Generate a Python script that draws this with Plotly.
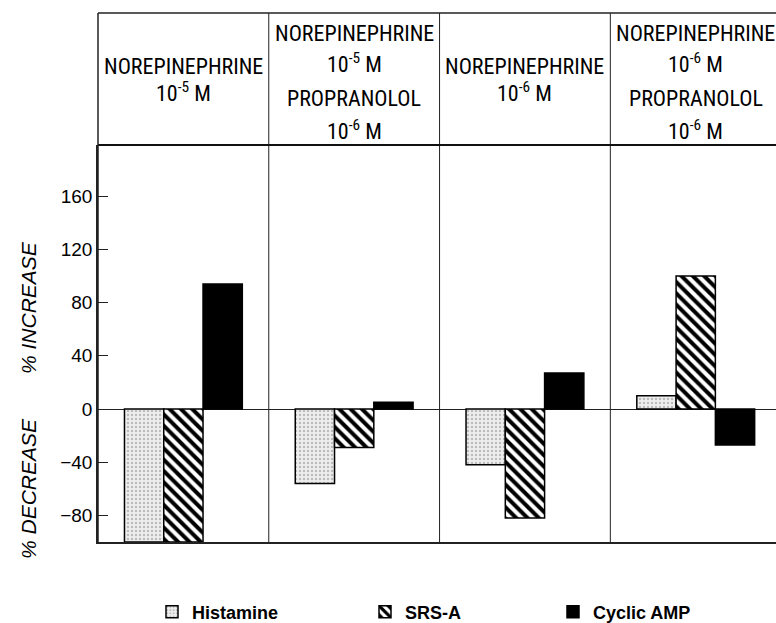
import plotly.graph_objects as go

panels = ["NE 1e-5", "NE 1e-5 + PROP 1e-6", "NE 1e-6", "NE 1e-6 + PROP 1e-6"]
header_lines = [
    ["NOREPINEPHRINE", "10<sup>-5</sup> M"],
    ["NOREPINEPHRINE", "10<sup>-5</sup> M", "PROPRANOLOL", "10<sup>-6</sup> M"],
    ["NOREPINEPHRINE", "10<sup>-6</sup> M"],
    ["NOREPINEPHRINE", "10<sup>-6</sup> M", "PROPRANOLOL", "10<sup>-6</sup> M"],
]
histamine = [-100, -56, -42, 10]
srs_a = [-100, -29, -82, 100]
cyclic_amp = [94, 5, 27, -27]
tick_vals = [-80, -40, 0, 40, 80, 120, 160]

W, H = 776, 623
ML, MT, MB, MR = 98, 145, 81, 0
PH = H - MT - MB


def py(p):
    return (H - MB - p) / PH


def px(p):
    return (p - ML) / (W - ML - MR)


HEAD_TOP = py(13)

fig = go.Figure()
fig.add_trace(go.Bar(
    x=panels, y=histamine, name="Histamine", legend="legend",
    marker=dict(color="white", line=dict(color="black", width=1.5),
                pattern=dict(shape=".", fgcolor="#8a8a8a", bgcolor="#eeeeee", size=4, solidity=0.3)),
))
fig.add_trace(go.Bar(
    x=panels, y=srs_a, name="SRS-A", legend="legend2",
    marker=dict(color="white", line=dict(color="black", width=1.5),
                pattern=dict(shape="\\", fgcolor="#000000", fgopacity=1, bgcolor="white", size=8, solidity=0.5)),
))
fig.add_trace(go.Bar(
    x=panels, y=cyclic_amp, name="Cyclic AMP", legend="legend3",
    marker=dict(color="black", line=dict(color="black", width=1.5)),
))

head_font = dict(family="Roboto Condensed, DejaVu Sans Condensed, Liberation Sans", size=22, color="black")
ann = []
two_line_y = [66, 92]
four_line_y = [34, 63, 99, 130]
for i, lines in enumerate(header_lines):
    ys = two_line_y if len(lines) == 2 else four_line_y
    for t, yy in zip(lines, ys):
        ann.append(dict(x=i, xref="x", y=py(yy), yref="paper", text=t,
                        showarrow=False, font=head_font, xanchor="center", yanchor="middle"))

lab_font = dict(family="Liberation Sans", size=21, color="black", style="italic")
ann.append(dict(x=px(28), xref="paper", y=py(308), yref="paper", text="% INCREASE", textangle=-90,
                showarrow=False, font=lab_font, xanchor="center", yanchor="middle"))
ann.append(dict(x=px(28), xref="paper", y=py(489), yref="paper", text="% DECREASE", textangle=-90,
                showarrow=False, font=lab_font, xanchor="center", yanchor="middle"))

shapes = []
for b in [0.5, 1.5, 2.5]:
    shapes.append(dict(type="line", xref="x", yref="paper", x0=b, x1=b, y0=0, y1=HEAD_TOP,
                       line=dict(color="#222", width=1)))
shapes.append(dict(type="line", xref="paper", yref="paper", x0=0, x1=1, y0=HEAD_TOP, y1=HEAD_TOP,
                   line=dict(color="#222", width=1.5)))
shapes.append(dict(type="line", xref="paper", yref="paper", x0=0, x1=1, y0=1, y1=1,
                   line=dict(color="#111", width=2)))
shapes.append(dict(type="line", xref="paper", yref="paper", x0=0, x1=0, y0=0, y1=HEAD_TOP,
                   line=dict(color="#222", width=1.5)))

leg_font = dict(family="Liberation Sans", size=18, color="black", weight="bold")
leg_common = dict(orientation="h", yanchor="middle", xanchor="left", font=leg_font,
                  bgcolor="rgba(0,0,0,0)", borderwidth=0)

fig.update_layout(
    width=W, height=H,
    margin=dict(l=ML, r=MR, t=MT, b=MB, pad=0, autoexpand=False),
    paper_bgcolor="white", plot_bgcolor="white",
    barmode="group", bargap=0.31, bargroupgap=0,
    showlegend=True,
    legend=dict(x=px(152), y=py(612), **leg_common),
    legend2=dict(x=px(365), y=py(612), **leg_common),
    legend3=dict(x=px(553), y=py(612), **leg_common),
    xaxis=dict(range=[-0.5, 3.47], showticklabels=False, ticks="", showgrid=False,
               showline=True, linecolor="#222", linewidth=1.5, mirror=False, zeroline=False,
               fixedrange=True),
    yaxis=dict(range=[-100, 198.5], tickvals=tick_vals, ticks="inside", ticklen=10, tickwidth=1,
               tickcolor="#222", showgrid=False, showline=True, linecolor="#222", linewidth=1.5,
               zeroline=True, zerolinecolor="#222", zerolinewidth=1,
               tickfont=dict(family="Liberation Sans", size=19, color="black"), fixedrange=True),
    annotations=ann, shapes=shapes,
)

fig.write_html("out.html")
